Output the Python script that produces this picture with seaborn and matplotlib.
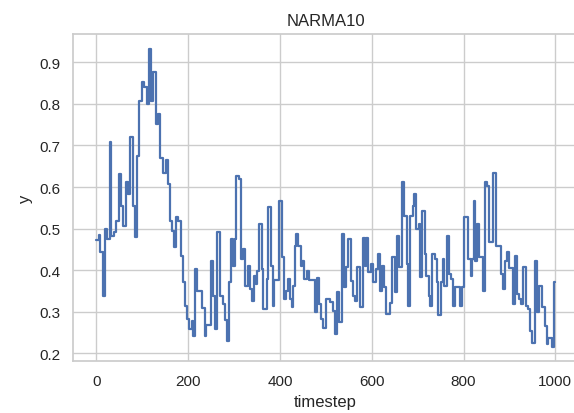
import matplotlib
matplotlib.use("Agg")
import matplotlib.pyplot as plt
import seaborn as sns
import pandas as pd

# NARMA10 output: each level holds from its start timestep until the next one
step_start = [
    0, 6, 9, 15, 19, 24, 29, 33, 38, 44, 49, 54, 59, 64, 69, 73, 80, 84, 89, 94,
    99, 104, 110, 115, 120, 124, 130, 134, 139, 146, 151, 156, 160, 164, 169, 174, 179, 184, 189, 193,
    198, 203, 208, 211, 216, 220, 231, 236, 240, 251, 255, 259, 264, 269, 275, 280, 284, 289, 294, 298,
    302, 305, 311, 316, 320, 325, 330, 335, 340, 343, 347, 351, 355, 360, 364, 371, 375, 380, 384, 388,
    399, 404, 409, 413, 418, 422, 426, 429, 432, 436, 440, 445, 449, 452, 458, 463, 476, 481, 485, 490,
    494, 500, 510, 516, 520, 525, 529, 535, 540, 545, 549, 555, 559, 564, 569, 574, 580, 585, 588, 593,
    598, 603, 609, 614, 618, 622, 627, 632, 640, 645, 651, 655, 660, 665, 671, 676, 680, 684, 689, 693,
    697, 702, 706, 710, 715, 719, 724, 728, 732, 737, 742, 745, 750, 755, 758, 763, 768, 773, 778, 782,
    792, 796, 802, 810, 816, 819, 823, 826, 830, 834, 842, 846, 852, 856, 865, 870, 881, 885, 890, 894,
    899, 908, 912, 917, 921, 926, 930, 935, 940, 945, 950, 955, 961, 964, 970, 977, 981, 985, 992, 996,
    999,
]
step_level = [
    0.473, 0.485, 0.443, 0.339, 0.499, 0.475, 0.708, 0.483, 0.491, 0.519, 0.631, 0.555, 0.507, 0.611, 0.583, 0.720, 0.555, 0.479, 0.675, 0.808,
    0.852, 0.840, 0.800, 0.932, 0.808, 0.876, 0.752, 0.776, 0.671, 0.635, 0.664, 0.607, 0.519, 0.495, 0.455, 0.527, 0.519, 0.435, 0.371, 0.315,
    0.283, 0.258, 0.278, 0.242, 0.403, 0.349, 0.310, 0.242, 0.268, 0.423, 0.339, 0.258, 0.493, 0.339, 0.319, 0.279, 0.230, 0.371, 0.475, 0.411,
    0.475, 0.627, 0.619, 0.427, 0.451, 0.363, 0.411, 0.355, 0.327, 0.387, 0.367, 0.399, 0.511, 0.403, 0.307, 0.379, 0.551, 0.411, 0.315, 0.377,
    0.567, 0.431, 0.331, 0.351, 0.379, 0.331, 0.311, 0.363, 0.459, 0.487, 0.459, 0.411, 0.423, 0.379, 0.399, 0.377, 0.299, 0.381, 0.319, 0.283,
    0.262, 0.331, 0.323, 0.303, 0.246, 0.347, 0.275, 0.487, 0.359, 0.407, 0.475, 0.375, 0.339, 0.327, 0.407, 0.311, 0.477, 0.411, 0.477, 0.395,
    0.415, 0.371, 0.403, 0.439, 0.351, 0.411, 0.359, 0.295, 0.321, 0.431, 0.347, 0.483, 0.407, 0.611, 0.531, 0.415, 0.315, 0.531, 0.555, 0.583,
    0.499, 0.511, 0.383, 0.543, 0.439, 0.387, 0.339, 0.315, 0.439, 0.427, 0.371, 0.291, 0.371, 0.428, 0.363, 0.483, 0.391, 0.379, 0.315, 0.359,
    0.315, 0.359, 0.527, 0.427, 0.387, 0.427, 0.567, 0.423, 0.511, 0.431, 0.351, 0.611, 0.603, 0.467, 0.635, 0.457, 0.391, 0.355, 0.423, 0.443,
    0.405, 0.319, 0.435, 0.343, 0.331, 0.319, 0.407, 0.315, 0.307, 0.254, 0.226, 0.423, 0.299, 0.363, 0.311, 0.266, 0.222, 0.238, 0.214, 0.371,
    0.371,
]

sns.set_theme(style="whitegrid")
plt.rcParams["font.family"] = ["Liberation Sans", "DejaVu Sans"]

df = pd.DataFrame({"timestep": step_start, "y": step_level})

fig = plt.figure(figsize=(5.74, 4.14), dpi=100)
ax = fig.add_axes([0.1277, 0.1256, 0.879, 0.7906])
sns.lineplot(data=df, x="timestep", y="y", drawstyle="steps-post", linewidth=1.6, ax=ax)

ax.set_xlim(-50, 1049)
ax.set_ylim(0.1815, 0.969)
ax.set_title("NARMA10")
ax.set_xlabel("timestep")
ax.set_ylabel("y")

fig.savefig("out.png", dpi=100)
